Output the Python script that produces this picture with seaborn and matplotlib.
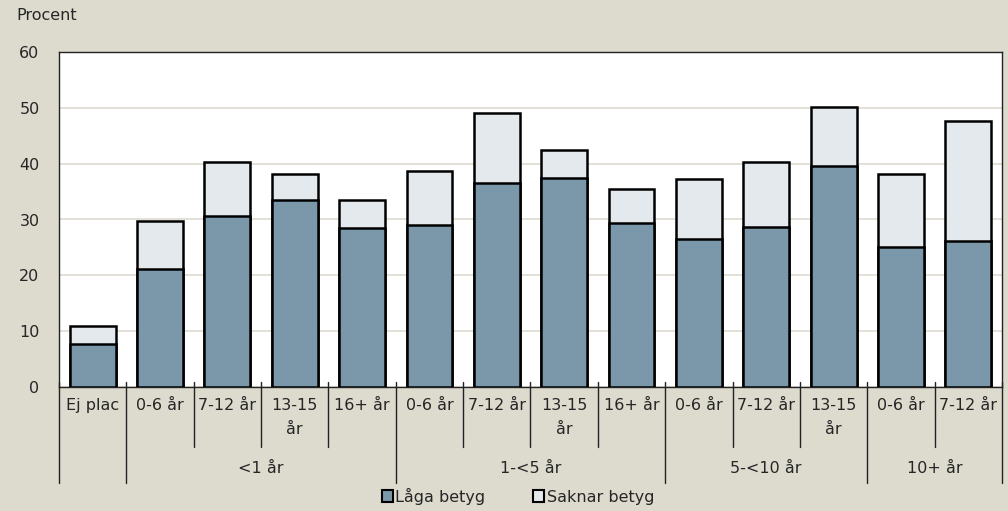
import matplotlib
matplotlib.use("Agg")
import matplotlib.pyplot as plt
import matplotlib.patches as mpatches
import seaborn as sns
import pandas as pd

# ---- data ----
cat_labels = ["Ej plac", "0-6 år", "7-12 år", "13-15\når", "16+ år",
              "0-6 år", "7-12 år", "13-15\når", "16+ år",
              "0-6 år", "7-12 år", "13-15\når",
              "0-6 år", "7-12 år"]
low_grades = [7.7, 21.1, 30.6, 33.5, 28.5, 29.0, 36.5, 37.4, 29.4, 26.5, 28.7, 39.6, 25.1, 26.2]
missing_grades = [3.3, 8.6, 9.7, 4.7, 5.0, 9.6, 12.5, 5.1, 6.1, 10.8, 11.6, 10.5, 13.05, 21.4]
group_labels = ["<1 år", "1-<5 år", "5-<10 år", "10+ år"]
group_spans = [(1, 4), (5, 8), (9, 11), (12, 13)]
series_names = ["Låga betyg", "Saknar betyg"]

BG = "#DDDACE"
DARK = "#7B98AA"
LIGHT = "#E4E9ED"
GRID = "#DDDAD0"
TXT = "#262626"
FS = 11.5

sns.set_theme(style="white")
plt.rcParams["font.family"] = ["DejaVu Sans"]
plt.rcParams["font.size"] = FS

df = pd.DataFrame({
    "pos": list(range(len(cat_labels))),
    "low": low_grades,
    "total": [a + b for a, b in zip(low_grades, missing_grades)],
})

fig = plt.figure(figsize=(10.08, 5.11), dpi=100, facecolor=BG)
ax = fig.add_axes([59 / 1008, 1 - 387 / 511, (1002 - 59) / 1008, (387 - 52) / 511])
ax.set_facecolor("white")

sns.barplot(data=df, x="pos", y="total", color=LIGHT, saturation=1, width=0.68,
            edgecolor="black", linewidth=1.8, ax=ax, zorder=3)
sns.barplot(data=df, x="pos", y="low", color=DARK, saturation=1, width=0.68,
            edgecolor="black", linewidth=1.8, ax=ax, zorder=3)

ax.set_ylim(0, 60)
ax.set_xlim(-0.5, len(cat_labels) - 0.5)
ax.set_yticks(range(0, 61, 10))
ax.yaxis.grid(True, color=GRID, linewidth=1.2, zorder=0)
ax.set_axisbelow(True)
ax.tick_params(axis="y", length=0, pad=14, labelsize=FS, colors=TXT)
ax.set_xticks([])
ax.set_xlabel("")
ax.set_ylabel("")
for s in ax.spines.values():
    s.set_visible(True)
    s.set_color("#222222")
    s.set_linewidth(1.0)

trans = ax.get_xaxis_transform()
# category labels
for i, lab in enumerate(cat_labels):
    ax.text(i, -0.033, lab, transform=trans, ha="center", va="top",
            fontsize=FS, color=TXT, linespacing=1.75)
# group labels
for lab, (a, b) in zip(group_labels, group_spans):
    ax.text((a + b) / 2, -0.242, lab, transform=trans, ha="center", va="center",
            fontsize=FS, color=TXT)
# separators
long_seps = [-0.5, 0.5, 4.5, 8.5, 11.5, 13.5]
short_seps = [1.5, 2.5, 3.5, 5.5, 6.5, 7.5, 9.5, 10.5, 12.5]
for x in long_seps:
    ax.plot([x, x], [0.015, -0.287], transform=trans, color="#222222", lw=1.0, clip_on=False)
for x in short_seps:
    ax.plot([x, x], [0.015, -0.179], transform=trans, color="#222222", lw=1.0, clip_on=False)

fig.text(16 / 1008, 1 - 16 / 511, "Procent", ha="left", va="center", fontsize=FS, color=TXT)

handles = [mpatches.Patch(facecolor=DARK, edgecolor="black", linewidth=1.5),
           mpatches.Patch(facecolor=LIGHT, edgecolor="black", linewidth=1.5)]
leg = fig.legend(handles, series_names, loc="center", bbox_to_anchor=(518 / 1008, 1 - 496 / 511),
                 ncol=2, frameon=False, handlelength=0.7, handleheight=0.7, handletextpad=0.15,
                 columnspacing=3.0, fontsize=FS)
for t in leg.get_texts():
    t.set_color(TXT)

fig.savefig("out.png", dpi=100, facecolor=BG)
